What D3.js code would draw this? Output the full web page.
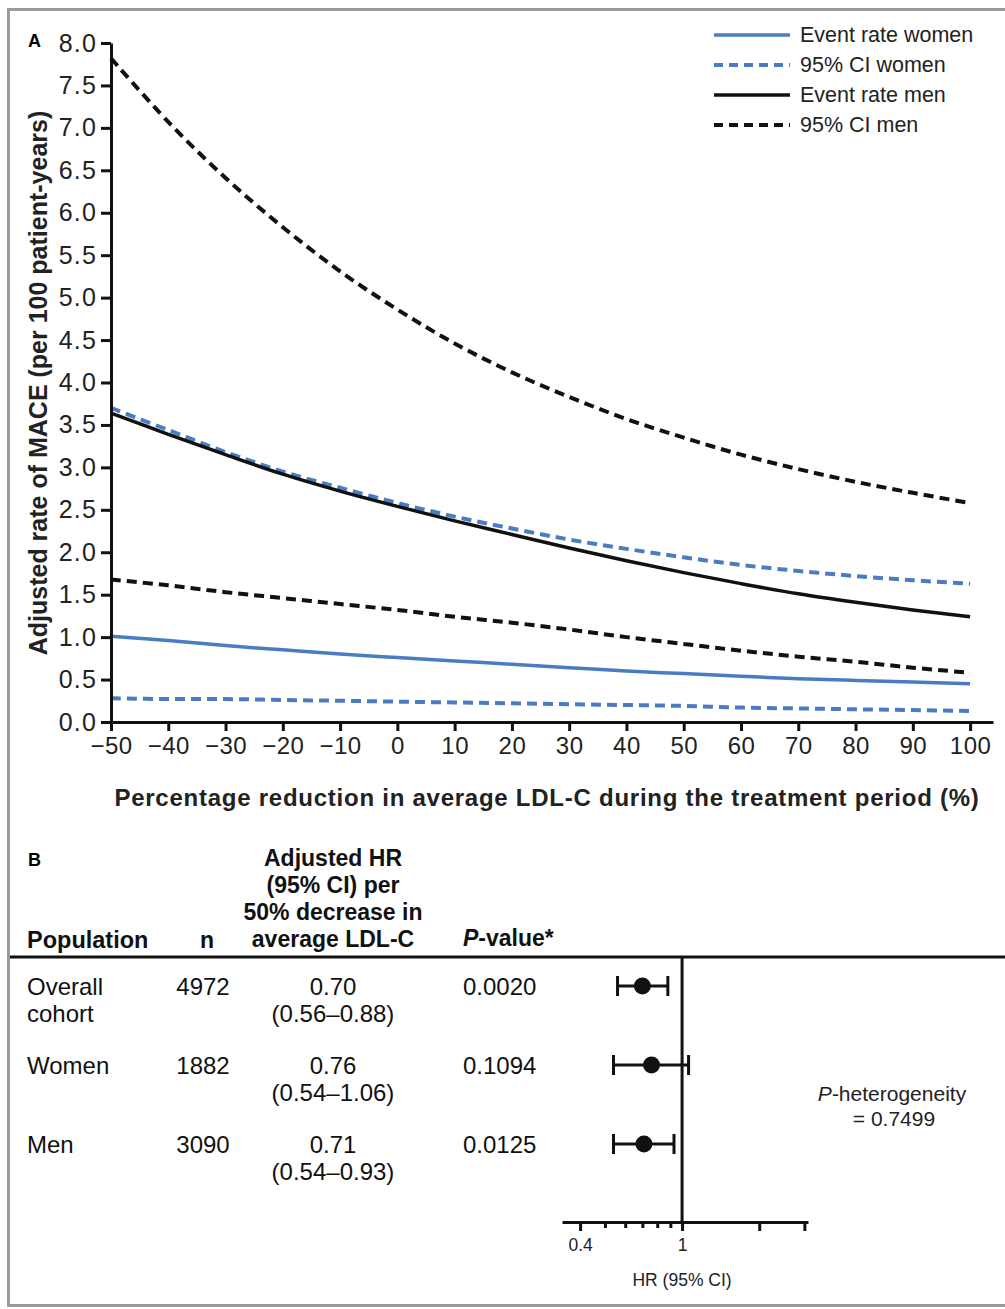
<!DOCTYPE html>
<html>
<head>
<meta charset="utf-8">
<script src="https://cdn.jsdelivr.net/npm/d3@7"></script>
<style>
  body { margin: 0; background: #fff; }
  svg { display: block; font-family: "Liberation Sans", Arial, Helvetica, sans-serif; }
</style>
</head>
<body>
<div id="viz"></div>
<script>
const width = 1005;
const height = 1309;
const blue = '#4a7cc3';
const black = '#111';

// Panel A: event rates, per 10% step of LDL-C reduction
const reduction = [-50, -40, -30, -20, -10, 0, 10, 20, 30, 40, 50, 60, 70, 80, 90, 100];
const womenRate  = [1.01, 0.96, 0.90, 0.85, 0.80, 0.76, 0.72, 0.68, 0.64, 0.60, 0.57, 0.54, 0.51, 0.49, 0.47, 0.45];
const womenUpper = [3.70, 3.44, 3.18, 2.95, 2.76, 2.58, 2.42, 2.28, 2.15, 2.04, 1.94, 1.85, 1.78, 1.72, 1.67, 1.63];
const womenLower = [0.28, 0.27, 0.27, 0.26, 0.25, 0.24, 0.23, 0.22, 0.21, 0.20, 0.19, 0.17, 0.16, 0.15, 0.14, 0.13];
const menRate    = [3.64, 3.39, 3.15, 2.92, 2.72, 2.54, 2.37, 2.21, 2.05, 1.90, 1.76, 1.63, 1.51, 1.41, 1.32, 1.24];
const menUpper   = [7.82, 7.07, 6.41, 5.83, 5.31, 4.86, 4.46, 4.12, 3.83, 3.57, 3.35, 3.15, 2.98, 2.83, 2.70, 2.58];
const menLower   = [1.68, 1.61, 1.53, 1.46, 1.39, 1.32, 1.24, 1.17, 1.09, 1.00, 0.92, 0.84, 0.77, 0.71, 0.64, 0.58];
const yTicks = [0, 0.5, 1, 1.5, 2, 2.5, 3, 3.5, 4, 4.5, 5, 5.5, 6, 6.5, 7, 7.5, 8];
const legendLabels = ['Event rate women', '95% CI women', 'Event rate men', '95% CI men'];

// Panel B: forest plot table
const popLines = [['Overall', 'cohort'], ['Women'], ['Men']];
const nValues = ['4972', '1882', '3090'];
const hr = [0.70, 0.76, 0.71];
const hrLow = [0.56, 0.54, 0.54];
const hrHigh = [0.88, 1.06, 0.93];
const pValues = ['0.0020', '0.1094', '0.0125'];
const hrTicks = [0.4, 1, 2, 3];
const hrTickLabels = ['0.4', '1', '', ''];
const hrMinorTicks = [0.5, 0.6, 0.7, 0.8, 0.9];

const svg = d3.select('#viz')
  .append('svg')
    .attr('width', width)
    .attr('height', height);

// grey frame
svg.append('rect')
  .attr('x', 8.5).attr('y', 9.5)
  .attr('width', 1010).attr('height', 1296)
  .attr('fill', 'none')
  .attr('stroke', '#9b9b9b')
  .attr('stroke-width', 3);

// ---------- Panel A ----------
const xScale = d3.scaleLinear().domain([-50, 104]).range([111, 993]);
const yScale = d3.scaleLinear().domain([0, 8]).range([722, 43]);

svg.append('text')
  .attr('x', 28).attr('y', 47)
  .text('A')
  .style('font-size', '18px')
  .style('font-weight', 700);

const series = [
  {values: womenUpper, color: blue, dash: true},
  {values: womenLower, color: blue, dash: true},
  {values: menUpper, color: black, dash: true},
  {values: menLower, color: black, dash: true},
  {values: womenRate, color: blue, dash: false},
  {values: menRate, color: black, dash: false}
];

const lineGen = d3.line()
  .x((d, i) => xScale(reduction[i]))
  .y(d => yScale(d))
  .curve(d3.curveCatmullRom.alpha(0.5));

series.forEach(s => {
  svg.append('path')
    .attr('d', lineGen(s.values))
    .attr('fill', 'none')
    .attr('stroke', s.color)
    .attr('stroke-width', s.dash ? 4 : 3.5)
    .attr('stroke-dasharray', s.dash ? '10,6' : null);
});

const xAxis = d3.axisBottom(xScale)
  .tickValues(reduction)
  .tickFormat(d3.format('d'))
  .tickSize(9)
  .tickSizeOuter(0)
  .tickPadding(6);
const xAxisGroup = svg.append('g')
  .attr('transform', `translate(0, ${yScale(0)})`)
  .call(xAxis);
xAxisGroup.selectAll('text')
  .style('font-size', '24px')
  .style('letter-spacing', '0.5px')
  .attr('fill', '#222');

const yAxis = d3.axisLeft(yScale)
  .tickValues(yTicks)
  .tickFormat(d3.format('.1f'))
  .tickSize(10)
  .tickSizeOuter(0)
  .tickPadding(4);
const yAxisGroup = svg.append('g')
  .attr('transform', `translate(${xScale(-50)}, 0)`)
  .call(yAxis);
yAxisGroup.selectAll('text')
  .style('font-size', '25px')
  .style('letter-spacing', '1.2px')
  .attr('fill', '#222');

[xAxisGroup, yAxisGroup].forEach(g => {
  g.select('.domain').attr('stroke', black).attr('stroke-width', 3);
  g.selectAll('.tick line').attr('stroke', black).attr('stroke-width', 3);
});

svg.append('text')
  .attr('x', 547).attr('y', 806)
  .attr('text-anchor', 'middle')
  .text('Percentage reduction in average LDL-C during the treatment period (%)')
  .attr('fill', '#222')
  .style('font-size', '24px')
  .style('letter-spacing', '0.75px')
  .style('font-weight', 700);

svg.append('text')
  .attr('transform', 'translate(47, 383) rotate(-90)')
  .attr('text-anchor', 'middle')
  .text('Adjusted rate of MACE (per 100 patient-years)')
  .attr('fill', '#222')
  .style('font-size', '25px')
  .style('font-weight', 700);

// legend
const legendY = d3.scalePoint().domain(legendLabels).range([35, 125]);
const legendStyle = [
  {color: blue, dash: false}, {color: blue, dash: true},
  {color: black, dash: false}, {color: black, dash: true}
];
legendLabels.forEach((label, i) => {
  const y = legendY(label);
  svg.append('line')
    .attr('x1', 714).attr('x2', 790)
    .attr('y1', y).attr('y2', y)
    .attr('stroke', legendStyle[i].color)
    .attr('stroke-width', legendStyle[i].dash ? 4 : 3.5)
    .attr('stroke-dasharray', legendStyle[i].dash ? '9,6' : null);
  svg.append('text')
    .attr('x', 800).attr('y', y + 7)
    .text(label)
    .attr('fill', '#222')
    .style('font-size', '21.5px');
});

// ---------- Panel B ----------
svg.append('text')
  .attr('x', 28).attr('y', 866)
  .text('B')
  .style('font-size', '18px')
  .style('font-weight', 700);

const headerLines = ['Adjusted HR', '(95% CI) per', '50% decrease in', 'average LDL-C'];
headerLines.forEach((t, i) => {
  svg.append('text')
    .attr('x', 333).attr('y', 866 + i * 27)
    .attr('text-anchor', 'middle')
    .text(t)
    .attr('fill', '#111')
    .style('font-size', '23px')
    .style('font-weight', 700);
});
svg.append('text')
  .attr('x', 27).attr('y', 948)
  .text('Population')
  .attr('fill', '#111')
  .style('font-size', '23.5px')
  .style('font-weight', 700);
svg.append('text')
  .attr('x', 207).attr('y', 948)
  .attr('text-anchor', 'middle')
  .text('n')
  .attr('fill', '#111')
  .style('font-size', '23px')
  .style('font-weight', 700);
const pHead = svg.append('text')
  .attr('x', 463).attr('y', 946)
  .attr('fill', '#111')
  .style('font-size', '23px')
  .style('font-weight', 700);
pHead.append('tspan').style('font-style', 'italic').text('P');
pHead.append('tspan').text('-value*');

svg.append('line')
  .attr('x1', 10).attr('x2', 1005)
  .attr('y1', 957).attr('y2', 957)
  .attr('stroke', black)
  .attr('stroke-width', 3);

const rowY = d3.scalePoint().domain(d3.range(popLines.length)).range([986, 1144]);
const fmt = d3.format('.2f');

popLines.forEach((lines, i) => {
  const y = rowY(i);
  lines.forEach((t, j) => {
    svg.append('text')
      .attr('x', 27).attr('y', y + 9 + j * 27)
      .text(t)
      .attr('fill', '#111')
      .style('font-size', '24px');
  });
  svg.append('text')
    .attr('x', 203).attr('y', y + 9)
    .attr('text-anchor', 'middle')
    .text(nValues[i])
    .attr('fill', '#111')
    .style('font-size', '24px');
  svg.append('text')
    .attr('x', 333).attr('y', y + 9)
    .attr('text-anchor', 'middle')
    .text(fmt(hr[i]))
    .attr('fill', '#111')
    .style('font-size', '24px');
  svg.append('text')
    .attr('x', 333).attr('y', y + 36)
    .attr('text-anchor', 'middle')
    .text(`(${fmt(hrLow[i])}–${fmt(hrHigh[i])})`)
    .attr('fill', '#111')
    .style('font-size', '24px');
  svg.append('text')
    .attr('x', 463).attr('y', y + 9)
    .text(pValues[i])
    .attr('fill', '#111')
    .style('font-size', '24px');
});

// forest plot
const hrScale = d3.scaleLog().domain([0.34, 3.1]).range([562, 808]);
const axisY = 1222;

svg.append('line')
  .attr('x1', hrScale(1)).attr('x2', hrScale(1))
  .attr('y1', 957).attr('y2', axisY)
  .attr('stroke', black)
  .attr('stroke-width', 3);

const hrAxis = d3.axisBottom(hrScale)
  .tickValues(hrTicks)
  .tickFormat((d, i) => hrTickLabels[i])
  .tickSize(9)
  .tickSizeOuter(0)
  .tickPadding(8);
const hrAxisGroup = svg.append('g')
  .attr('transform', `translate(0, ${axisY})`)
  .call(hrAxis);
hrAxisGroup.select('.domain').attr('stroke', black).attr('stroke-width', 3);
hrAxisGroup.selectAll('.tick line').attr('stroke', black).attr('stroke-width', 3);
hrAxisGroup.selectAll('text').style('font-size', '17.5px').attr('fill', '#222');

const hrMinor = d3.axisBottom(hrScale)
  .tickValues(hrMinorTicks)
  .tickFormat('')
  .tickSize(6)
  .tickSizeOuter(0);
const hrMinorGroup = svg.append('g')
  .attr('transform', `translate(0, ${axisY})`)
  .call(hrMinor);
hrMinorGroup.select('.domain').remove();
hrMinorGroup.selectAll('.tick line').attr('stroke', black).attr('stroke-width', 3);

svg.append('text')
  .attr('x', hrScale(1)).attr('y', 1286)
  .attr('text-anchor', 'middle')
  .text('HR (95% CI)')
  .attr('fill', '#222')
  .style('font-size', '17.5px');

hr.forEach((v, i) => {
  const y = rowY(i);
  svg.append('line')
    .attr('x1', hrScale(hrLow[i])).attr('x2', hrScale(hrHigh[i]))
    .attr('y1', y).attr('y2', y)
    .attr('stroke', black).attr('stroke-width', 3);
  [hrLow[i], hrHigh[i]].forEach(c => {
    svg.append('line')
      .attr('x1', hrScale(c)).attr('x2', hrScale(c))
      .attr('y1', y - 10).attr('y2', y + 10)
      .attr('stroke', black).attr('stroke-width', 3);
  });
  svg.append('circle')
    .attr('cx', hrScale(v)).attr('cy', y)
    .attr('r', 8.5)
    .attr('fill', black);
});

const het = svg.append('text')
  .attr('x', 892).attr('y', 1101)
  .attr('text-anchor', 'middle')
  .attr('fill', '#222')
  .style('font-size', '21px');
het.append('tspan').style('font-style', 'italic').text('P');
het.append('tspan').text('-heterogeneity');
svg.append('text')
  .attr('x', 894).attr('y', 1126)
  .attr('text-anchor', 'middle')
  .text('= 0.7499')
  .attr('fill', '#222')
  .style('font-size', '21px');
</script>
</body>
</html>
